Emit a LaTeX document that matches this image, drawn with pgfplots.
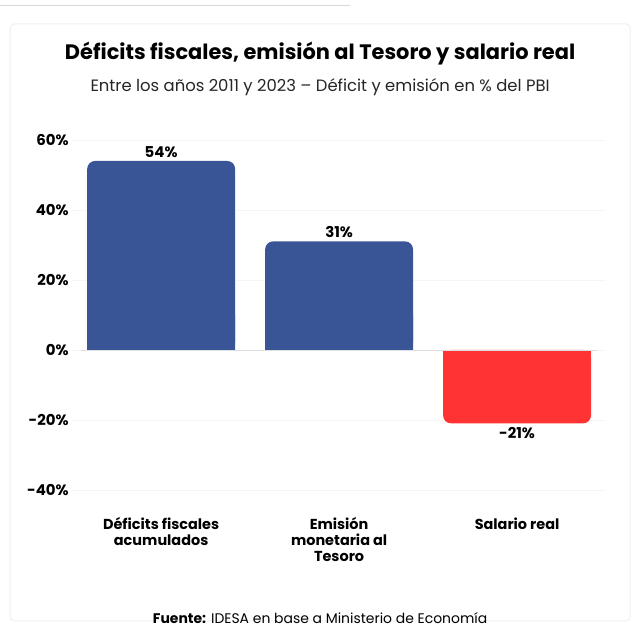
\documentclass[border=0pt]{standalone}
\usepackage{pgfplots}
\pgfplotsset{compat=1.18}
\usepackage{fontspec}
\setmainfont{Poppins}
\setsansfont{Poppins}
\definecolor{barblue}{HTML}{3A5595}
\definecolor{barred}{HTML}{FF3333}
\begin{document}
\begin{tikzpicture}[x=1bp,y=1bp]
\fill[white] (0,0) rectangle (640,629);
\draw[gray!30] (0,624) -- (350,624);
\draw[gray!12,line width=1bp,rounded corners=4bp] (10,8) rectangle (630,605);
\node[font=\fontsize{21}{23}\selectfont\bfseries] at (320,575) {Déficits fiscales, emisión al Tesoro y salario real};
\node[font=\fontsize{16.5}{18}\selectfont,text=black!85] at (320,542) {Entre los años 2011 y 2023 – Déficit y emisión en \% del PBI};
\node[font=\fontsize{14}{16}\selectfont] at (320,11) {\textbf{Fuente:} IDESA en base a Ministerio de Economía};
\begin{axis}[at={(72bp,139bp)},anchor=south west,scale only axis,
  width=534bp,height=350bp,
  xmin=-0.5,xmax=2.5,ymin=-40,ymax=60,
  axis line style={draw=none},tick style={draw=none},
  ytick={-40,-20,0,20,40,60},
  yticklabel={\textbf{\pgfmathprintnumber{\tick}\%}},
  yticklabel style={font=\fontsize{15}{16}\selectfont,xshift=0bp},
  /pgf/number format/assume math mode=true,
  ymajorgrids, grid style={gray!8},
  xtick={0,1,2},
  xticklabels={Déficits fiscales\\acumulados,Emisión\\monetaria al\\Tesoro,Salario real},
  xticklabel style={font=\fontsize{14.5}{16}\selectfont\bfseries,align=center,anchor=north,yshift=-20bp},
  ybar,bar width=148bp,bar shift=0pt,
  clip=false]
\addplot[fill=barblue,draw=none,rounded corners=8bp,
  nodes near coords={\textbf{\pgfmathprintnumber{\pgfplotspointmeta}\%}},
  every node near coord/.append style={font=\fontsize{15}{16}\selectfont,/pgf/number format/assume math mode=true}] coordinates {(0,54) (1,31)};
\addplot[fill=barred,draw=none,rounded corners=8bp,
  nodes near coords={\textbf{\pgfmathprintnumber{\pgfplotspointmeta}\%}},
  every node near coord/.append style={font=\fontsize{15}{16}\selectfont,/pgf/number format/assume math mode=true}] coordinates {(2,-21)};
\addplot[fill=barblue,draw=none] coordinates {(0,10) (1,10)};
\addplot[fill=barred,draw=none] coordinates {(2,-10)};
\draw[gray!25] (axis cs:-0.45,0) -- (axis cs:2.45,0);
\end{axis}
\end{tikzpicture}
\end{document}
